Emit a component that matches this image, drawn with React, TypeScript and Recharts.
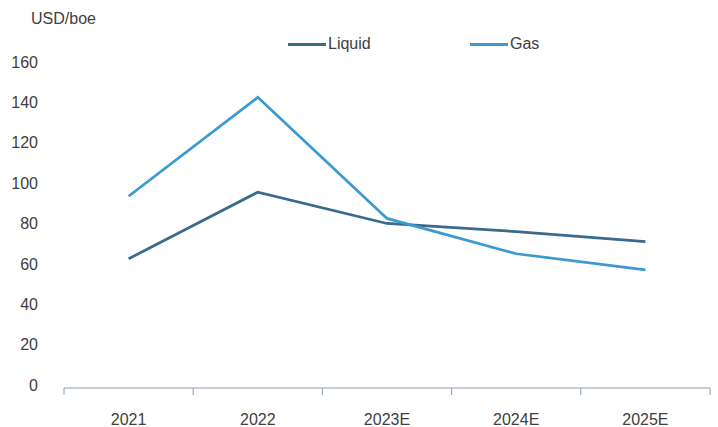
import React from 'react';
import { LineChart, Line, XAxis, YAxis } from 'recharts';

const years = ['2021', '2022', '2023E', '2024E', '2025E'];
const liquid = [64, 97, 81.5, 77.5, 72.5];
const gas = [95, 144, 84, 66.5, 58.5];
const yTicks = [0, 20, 40, 60, 80, 100, 120, 140, 160];

const data = years.map((year, i) => ({ year, liquid: liquid[i], gas: gas[i] }));

const FONT = '"Liberation Sans", Arial, sans-serif';
const TEXT = '#404040';
const AXIS = '#8e9db2';

const series = [
  { key: 'liquid', name: 'Liquid', color: '#386b8d' },
  { key: 'gas', name: 'Gas', color: '#3c9ad0' },
];

const CHART_W = 718;
const CHART_H = 427;
const MARGIN = { top: 65, right: 8, bottom: 0, left: 0 };
const Y_WIDTH = 64;

// category label plus a tick mark on the left edge of its band (and the right edge for the last one)
const YearTick = (props: any) => {
  const { x, y, payload, index, visibleTicksCount } = props;
  const plotW = CHART_W - MARGIN.left - MARGIN.right - Y_WIDTH;
  const half = payload?.offset || plotW / years.length / 2;
  const axisY = y - 8;
  return (
    <g>
      <line x1={x - half} x2={x - half} y1={axisY} y2={axisY + 7} stroke={AXIS} />
      {index === visibleTicksCount - 1 && (
        <line x1={x + half} x2={x + half} y1={axisY} y2={axisY + 7} stroke={AXIS} />
      )}
      <text x={x} y={y + 29} textAnchor="middle" fill={TEXT} fontSize={16} fontFamily={FONT}>
        {payload.value}
      </text>
    </g>
  );
};

const SeriesLegend = () => (
  <div
    style={{
      position: 'absolute',
      left: 288,
      top: 35,
      display: 'flex',
      fontFamily: FONT,
      fontSize: 16,
      color: TEXT,
    }}
  >
    {series.map((s) => (
      <div key={s.key} style={{ width: 182, display: 'flex', alignItems: 'center' }}>
        <span style={{ display: 'inline-block', width: 38, height: 3, background: s.color, marginRight: 2 }} />
        <span>{s.name}</span>
      </div>
    ))}
  </div>
);

export default function App() {
  return (
    <div style={{ position: 'absolute', left: 0, top: 0, width: CHART_W, height: CHART_H, background: '#fff' }}>
      <LineChart width={CHART_W} height={CHART_H} data={data} margin={MARGIN}>
        <XAxis
          dataKey="year"
          scale="band"
          axisLine={{ stroke: AXIS }}
          tickLine={false}
          tickSize={8}
          tickMargin={0}
          height={39}
          interval={0}
          tick={<YearTick />}
        />
        <YAxis
          domain={[0, 160]}
          ticks={yTicks}
          width={Y_WIDTH}
          axisLine={false}
          tickLine={false}
          tickSize={0}
          tickMargin={26}
          tick={{ fill: TEXT, fontSize: 16, fontFamily: FONT, dy: -3 }}
        />
        {series.map((s) => (
          <Line
            key={s.key}
            type="linear"
            dataKey={s.key}
            name={s.name}
            stroke={s.color}
            strokeWidth={2.75}
            dot={false}
            activeDot={false}
            isAnimationActive={false}
          />
        ))}
      </LineChart>
      <div style={{ position: 'absolute', left: 31, top: 10, fontFamily: FONT, fontSize: 16, color: TEXT }}>
        USD/boe
      </div>
      <SeriesLegend />
    </div>
  );
}
